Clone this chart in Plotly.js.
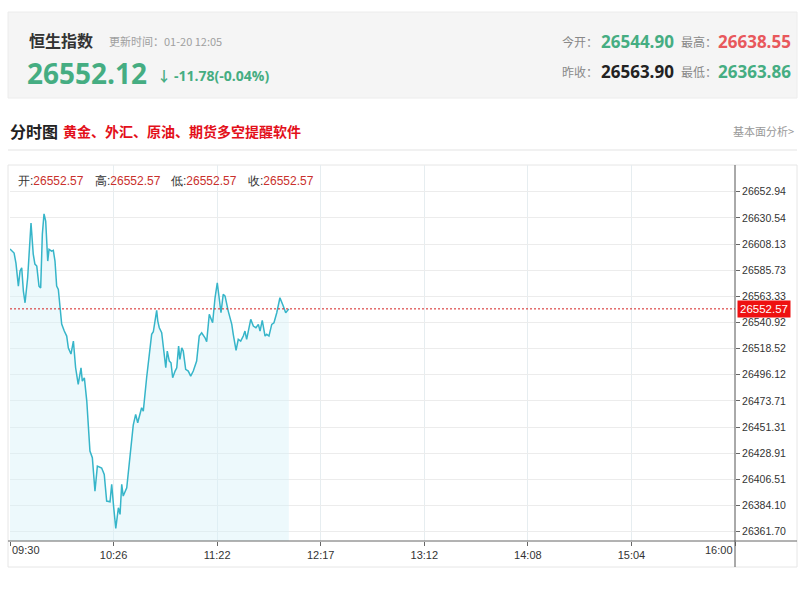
<!DOCTYPE html>
<html>
<head>
<meta charset="utf-8">
<script src="https://cdn.plot.ly/plotly-3.0.1.min.js"></script>
<style>html,body{margin:0;padding:0;background:#fff;}#chart{width:800px;height:596px;}</style>
</head>
<body>
<div id="chart"></div>
<script>
// minutes after 09:30
const timeMin = [0,2.2,3.2,4.5,5.4,6.3,7.2,8.1,9.5,11.3,12.5,13.4,14.4,15.6,16.5,17.4,18.3,19.2,20.3,21.0,
22.4,23.3,24.2,25.1,26.0,26.9,27.8,29.2,30.5,31.4,32.8,34.1,35.3,36.7,38.2,38.9,40.0,41.3,43.0,44.3,
45.7,47.0,49.3,50.7,52.0,53.8,54.7,55.8,56.9,58.3,59.2,60.1,60.9,62.8,64.6,66.3,67.6,68.7,70.8,71.7,
73.5,74.9,76.2,77.1,78.9,79.5,80.3,81.6,82.5,83.8,84.6,85.7,86.6,87.5,88.8,89.7,90.7,91.4,92.4,93.2,
94.5,95.9,97.2,98.6,100.4,101.8,103.1,104.9,105.8,107.2,109.0,110.3,111.5,112.6,113.5,114.7,115.7,117.4,119.3,120.1,
121.6,122.8,124.1,125.5,126.4,127.3,129.5,130.9,132.3,133.6,134.5,135.7,137.2,138.1,139.3,140.8,142.0,143.5,145.2,147.0,
148.3,150];
const price = [26603.80,26600.37,26591.80,26572.10,26584.95,26587.78,26567.82,26557.80,26579.21,26626.07,26599.51,26590.95,26589.23,26572.10,26570.39,26616.64,26634.00,26627.78,26593.52,26603.54,
26602.08,26602.68,26593.52,26572.10,26569.27,26554.97,26539.55,26533.55,26529.27,26518.99,26513.85,26524.99,26502.12,26487.90,26502.12,26490.72,26493.55,26473.59,26430.76,26425.02,
26396.50,26417.91,26416.20,26410.80,26387.93,26387.33,26402.24,26382.19,26364.50,26382.19,26376.54,26402.24,26392.21,26399.32,26427.93,26453.03,26462.20,26455.00,26467.85,26465.03,
26493.55,26513.59,26530.73,26532.95,26551.29,26542.12,26536.38,26532.10,26520.70,26502.12,26516.42,26507.86,26506.40,26493.55,26499.29,26502.12,26520.70,26509.31,26519.25,26516.42,
26500.75,26499.29,26495.01,26499.29,26507.86,26529.27,26532.10,26527.81,26524.39,26547.86,26540.66,26562.08,26574.93,26562.08,26549.23,26564.99,26563.53,26550.69,26539.29,26530.73,
26517.02,26526.44,26524.99,26529.27,26533.55,26526.44,26543.58,26537.84,26536.38,26539.29,26533.55,26542.72,26529.27,26530.73,26529.27,26539.29,26540.66,26549.23,26562.08,26554.97,
26549.23,26552.57];
const xTickVals = [0,55.71,111.43,167.14,222.86,278.57,334.29,390];
const xTickText = ["09:30","10:26","11:22","12:17","13:12","14:08","15:04","16:00"];
const yTickVals = [26361.70,26384.10,26406.51,26428.91,26451.31,26473.71,26496.12,26518.52,26540.92,26563.33,26585.73,26608.13,26630.54,26652.94];
const lastPrice = 26552.57;
const yRange = [26353.73, 26675.81];

// pixel helpers for page decorations
const X = px => (px - 10) / 725;
const Y = py => (541 - py) / 376;

const green = '#45ad82', red = '#e8585c';
const cjk = '"Noto Sans CJK SC", "Open Sans", sans-serif';
const num = '"Open Sans", "Noto Sans CJK SC", sans-serif';
const axisFont = '"Liberation Sans", Arial, sans-serif';

function ann(text, px, py, size, color, anchor, family, extra) {
  return Object.assign({text, x: X(px), y: Y(py), xref: 'paper', yref: 'paper', xanchor: anchor || 'left', yanchor: 'middle',
    showarrow: false, font: {size, color, family: family || cjk}}, extra || {});
}

const annotations = [
  ann('<b>恒生指数</b>', 27, 40, 16, '#333'),
  ann('更新时间：01-20 12:05', 107, 41, 11, '#a0a0a0'),
  ann('<b>26552.12</b>', 25, 73, 28, green, 'left', num),
  ann('<b>↓</b>', 155, 75, 14, green, 'left', num),
  ann('<b>-11.78(-0.04%)</b>', 172, 75, 14, green, 'left', num),
  ann('今开：', 560, 41, 12, '#888'),
  ann('<b>26544.90</b>', 599, 41, 17, green, 'left', num),
  ann('最高：', 679, 41, 12, '#888'),
  ann('<b>26638.55</b>', 716, 41, 17, red, 'left', num),
  ann('昨收：', 560, 71, 12, '#888'),
  ann('<b>26563.90</b>', 599, 71, 17, '#222', 'left', num),
  ann('最低：', 679, 71, 12, '#888'),
  ann('<b>26363.86</b>', 716, 71, 17, green, 'left', num),
  ann('<b>分时图</b>', 8, 131, 16, '#222'),
  ann('<b>黄金、外汇、原油、期货多空提醒软件</b>', 61, 131, 14, '#e3101a'),
  ann('基本面分析>', 796, 131, 11, '#999', 'right'),
  ann('开:<span style="color:#c9302c">26552.57</span>', 16, 181, 12, '#333', 'left', axisFont),
  ann('高:<span style="color:#c9302c">26552.57</span>', 93, 181, 12, '#333', 'left', axisFont),
  ann('低:<span style="color:#c9302c">26552.57</span>', 169, 181, 12, '#333', 'left', axisFont),
  ann('收:<span style="color:#c9302c">26552.57</span>', 246, 181, 12, '#333', 'left', axisFont),
  {text: xTickText[0], x: xTickVals[0], xref: 'x', y: Y(550), yref: 'paper', xanchor: 'left', yanchor: 'middle', showarrow: false,
   font: {size: 11, color: '#333', family: axisFont}},
  {text: xTickText[7], x: xTickVals[7], xref: 'x', y: Y(550), yref: 'paper', xanchor: 'right', yanchor: 'middle', showarrow: false,
   font: {size: 11, color: '#333', family: axisFont}},
  {text: lastPrice.toFixed(2), x: 1, xref: 'paper', xshift: 2, y: lastPrice, yref: 'y', xanchor: 'left', yanchor: 'middle', showarrow: false,
   bgcolor: '#ee1111', borderpad: 2, font: {size: 11.5, color: '#fff', family: axisFont}}
];

const shapes = [
  {type: 'rect', xref: 'paper', yref: 'paper', x0: X(8), x1: X(797), y0: Y(98), y1: Y(12), fillcolor: '#f5f5f5', line: {color: '#ececec', width: 1}, layer: 'below'},
  {type: 'line', xref: 'paper', yref: 'paper', x0: X(8), x1: X(797), y0: Y(150), y1: Y(150), line: {color: '#e3e3e3', width: 1}},
  {type: 'rect', xref: 'paper', yref: 'paper', x0: X(8), x1: X(797), y0: Y(567), y1: Y(165), line: {color: '#e6e6e6', width: 1}, layer: 'below'},
  {type: 'line', xref: 'paper', yref: 'paper', x0: X(8), x1: X(797), y0: 0, y1: 0, line: {color: '#666', width: 1}},
  {type: 'line', xref: 'paper', yref: 'paper', x0: 1, x1: 1, y0: Y(567), y1: Y(165), line: {color: '#555', width: 1}},
  {type: 'line', xref: 'paper', yref: 'y', x0: 0, x1: 1, y0: lastPrice, y1: lastPrice, line: {color: '#d42020', width: 1, dash: '2px,2px'}}
];

const trace = {
  x: timeMin, y: price, type: 'scatter', mode: 'lines',
  line: {color: '#36b5c9', width: 1.5},
  fill: 'tozeroy', fillcolor: 'rgba(214,241,249,0.45)',
  hoverinfo: 'skip'
};

const layout = {
  width: 800, height: 596,
  margin: {l: 10, r: 65, t: 165, b: 55},
  paper_bgcolor: '#fff', plot_bgcolor: '#fff',
  showlegend: false,
  xaxis: {range: [0, 390], tickvals: xTickVals, ticktext: ['', ...xTickText.slice(1, 7), ''],
    showgrid: true, gridcolor: '#e6edf0', gridwidth: 1, zeroline: false, showline: false,
    ticks: 'outside', ticklen: 4, tickcolor: '#666',
    tickfont: {size: 11, color: '#333', family: axisFont}, fixedrange: true},
  yaxis: {range: yRange, side: 'right', tickvals: yTickVals, tickformat: '.2f',
    showgrid: true, gridcolor: '#ececec', gridwidth: 1, zeroline: false, showline: false,
    ticks: 'outside', ticklen: 4, tickcolor: '#666',
    tickfont: {size: 10.5, color: '#333', family: axisFont}, fixedrange: true},
  annotations, shapes
};

Plotly.newPlot('chart', [trace], layout, {displayModeBar: false, staticPlot: true});
</script>
</body>
</html>
